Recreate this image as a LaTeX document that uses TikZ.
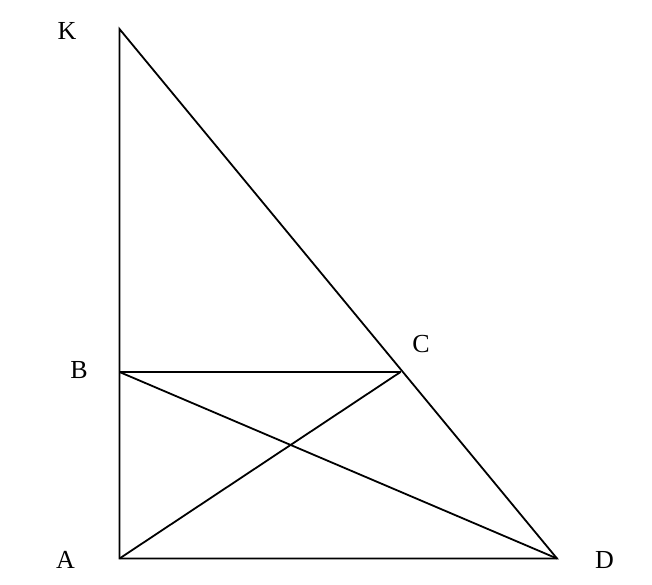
\documentclass[tikz,border=0pt]{standalone}
\usepackage{fontspec}
\setmainfont{Liberation Serif}
\begin{document}
\begin{tikzpicture}[x=1pt,y=-1pt,
  edge/.style={line width=1.8pt},
  lbl/.style={font=\fontsize{26}{30}\selectfont, inner sep=0pt}]
\useasboundingbox (0,0) rectangle (652,584);
\coordinate (K) at (119.5,29);
\coordinate (B) at (119.5,372);
\coordinate (A) at (119.5,558.5);
\coordinate (D) at (557,558.5);
\coordinate (C) at (400.5,372);
\draw[edge] (K) -- (A) -- (D) -- cycle;
\draw[edge] (B) -- (C);
\draw[edge] (B) -- (D);
\draw[edge] (A) -- (C);
\node[lbl] (lK) at (67,31) {K};
\node[lbl] (lB) at (79,370) {B};
\node[lbl] (lC) at (421,344) {C};
\node[lbl] (lA) at (65.5,560) {A};
\node[lbl] (lD) at (604.5,560) {D};
\end{tikzpicture}
\end{document}
